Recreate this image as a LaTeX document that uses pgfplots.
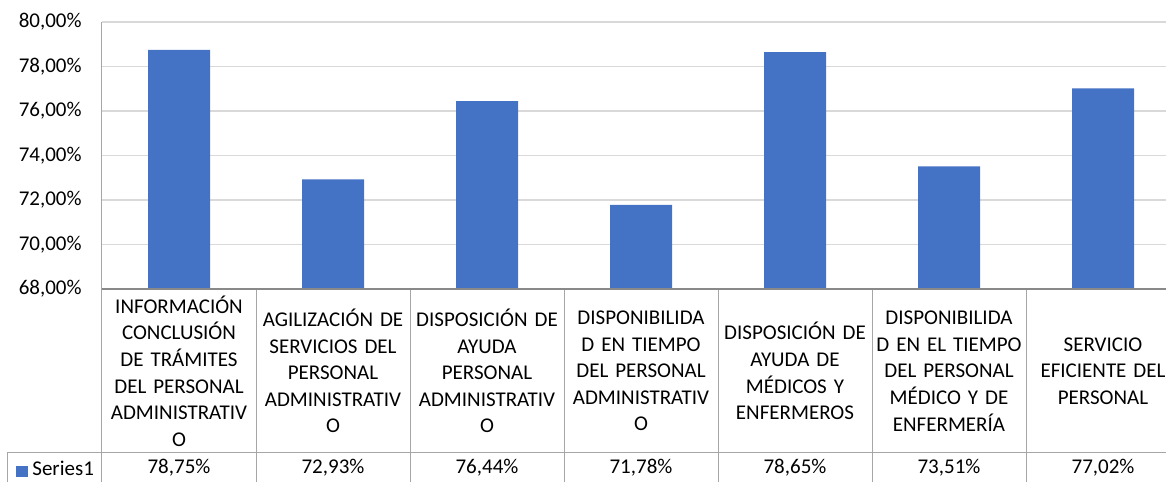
\documentclass[border=0pt]{standalone}
\usepackage{fontspec}
\setmainfont{Carlito}
\usepackage{pgfplots}
\pgfplotsset{compat=1.18}
\definecolor{barblue}{HTML}{4472C4}
\definecolor{gridc}{HTML}{D9D9D9}
\definecolor{axc}{HTML}{898989}
\definecolor{tabc}{HTML}{A6A6A6}
\begin{document}
\begin{tikzpicture}[font=\fontsize{10.5}{13.3}\selectfont]
\begin{axis}[name=ax, scale only axis, width=532pt, height=133.5pt,
  xmin=-0.5, xmax=6.409, ymin=68, ymax=80, enlargelimits=false,
  ytick={68,70,...,80},
  yticklabels={{68,00\%},{70,00\%},{72,00\%},{74,00\%},{76,00\%},{78,00\%},{80,00\%}},
  yticklabel style={anchor=east, inner sep=0pt, xshift=-10pt},
  xtick={0,...,6},
  xticklabels={
    {INFORMACIÓN\\CONCLUSIÓN\\DE TRÁMITES\\DEL PERSONAL\\ADMINISTRATIV\\O},
    {AGILIZACIÓN DE\\SERVICIOS DEL\\PERSONAL\\ADMINISTRATIV\\O},
    {DISPOSICIÓN DE\\AYUDA\\PERSONAL\\ADMINISTRATIV\\O},
    {DISPONIBILIDA\\D EN TIEMPO\\DEL PERSONAL\\ADMINISTRATIV\\O},
    {DISPOSICIÓN DE\\AYUDA DE\\MÉDICOS Y\\ENFERMEROS},
    {DISPONIBILIDA\\D EN EL TIEMPO\\DEL PERSONAL\\MÉDICO Y DE\\ENFERMERÍA},
    {SERVICIO\\EFICIENTE DEL\\PERSONAL}},
  xticklabel style={align=center, anchor=center, yshift=-41pt, inner sep=0pt, text width=76pt},
  major tick length=0pt,
  axis line style={draw=none},
  ymajorgrids, grid style={color=gridc, line width=0.6pt},
]
\addplot[ybar, bar width=31pt, fill=barblue, draw=none] coordinates {
  (0,78.75) (1,72.93) (2,76.44) (3,71.78) (4,78.65) (5,73.51) (6,77.02)};
\end{axis}
\draw[tabc, line width=0.5pt] (ax.north west) -- ([yshift=-96.5pt]ax.south west);
\foreach \i in {1,...,6} \draw[tabc, line width=0.5pt] ([xshift=\i*77pt]ax.south west) -- ++(0,-96.5pt);
\draw[tabc, line width=0.5pt] ([xshift=-47pt, yshift=-81.5pt]ax.south west) -- ([yshift=-81.5pt]ax.south east);
\draw[tabc, line width=0.5pt] ([xshift=-47pt, yshift=-81.5pt]ax.south west) -- ++(0,-15pt);
\draw[axc, line width=0.6pt] (ax.south west) -- (ax.south east);
\fill[barblue] ([xshift=-43pt, yshift=-88.5pt]ax.south west) rectangle ++(5.8pt,-5.5pt);
\node[anchor=west, inner sep=0pt] at ([xshift=-35pt, yshift=-89.5pt]ax.south west) {Series1};
\foreach \v [count=\i from 0] in {{78,75\%},{72,93\%},{76,44\%},{71,78\%},{78,65\%},{73,51\%},{77,02\%}}
  \node at ([xshift=\i*77pt+38.5pt, yshift=-89.5pt]ax.south west) {\v};
\pgfresetboundingbox
\path[use as bounding box] ([xshift=-51pt, yshift=11pt]ax.north west) rectangle ([yshift=-96.5pt]ax.south east);
\end{tikzpicture}
\end{document}
